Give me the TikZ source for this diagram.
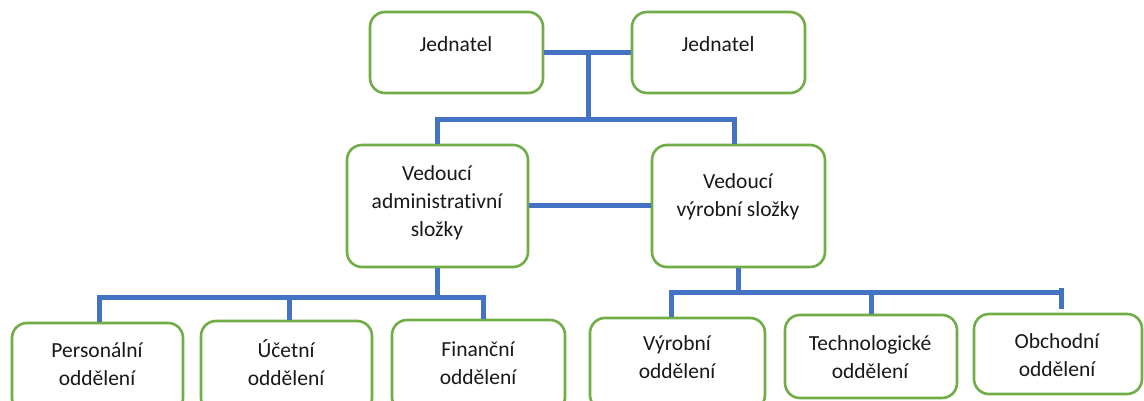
\documentclass[tikz,border=0pt]{standalone}
\usepackage{fontspec}
\setmainfont{Carlito}[Ligatures=NoCommon]
\definecolor{boxgreen}{HTML}{70AD47}
\definecolor{lineblue}{HTML}{4472C4}
\begin{document}
\begin{tikzpicture}[x=1pt,y=-1pt,
  box/.style={draw=boxgreen,line width=2.6pt,rounded corners=15pt,fill=white,inner sep=0pt},
  txt/.style={align=center,font=\fontsize{21.5}{28}\selectfont,text=black!90,inner sep=0pt},
  conn/.style={draw=lineblue,line width=5pt}]
\useasboundingbox[fill=white] (0,0) rectangle (1144,401);
% boxes
\node[box,minimum width=173pt,minimum height=81pt] (j1) at (456.5,52.5) {};
\node[box,minimum width=173pt,minimum height=81pt] (j2) at (718.5,52.5) {};
\node[box,minimum width=181pt,minimum height=122pt] (va) at (437.5,206) {};
\node[box,minimum width=173pt,minimum height=122pt] (vv) at (738.5,206) {};
\node[box,minimum width=171pt,minimum height=90pt] (p) at (97.5,368) {};
\node[box,minimum width=171pt,minimum height=92pt] (u) at (286.5,367) {};
\node[box,minimum width=173pt,minimum height=92pt] (f) at (478.5,366) {};
\node[box,minimum width=175pt,minimum height=92pt] (vy) at (677.5,364) {};
\node[box,minimum width=172pt,minimum height=83pt] (t) at (871,356.5) {};
\node[box,minimum width=168pt,minimum height=80pt] (o) at (1058,354) {};
% texts
\node[txt] (j1t) at (456,44) {Jednatel};
\node[txt] (j2t) at (718,44) {Jednatel};
\node[txt] (vat) at (437,203) {Vedoucí\\administrativní\\složky};
\node[txt] (vvt) at (738,197) {Vedoucí\\výrobní složky};
\node[txt] (pt) at (97,364) {Personální\\oddělení};
\node[txt] (ut) at (286,363) {Účetní\\oddělení};
\node[txt] (ft) at (478,363) {Finanční\\oddělení};
\node[txt] (vyt) at (677,357) {Výrobní\\oddělení};
\node[txt] (tt) at (870,357) {Technologické\\oddělení};
\node[txt] (ot) at (1057,355) {Obchodní\\oddělení};
% coordinates
\coordinate (top) at (588,52.5);
\coordinate (bus1) at (588,120);
\coordinate (bus2) at (437.5,297);
\coordinate (bus3) at (738.5,292);
\coordinate (oend) at (1061,309);
\coordinate (otop) at (1061,288);
% connectors
\draw[conn] (j1.east) -- (j2.west);
\draw[conn] (top) -- (bus1);
\draw[conn] (va.north) |- (bus1) -| ([xshift=-4.5pt]vv.north);
\draw[conn] (va.east) -- (vv.west);
\draw[conn] (va.south) -- (bus2);
\draw[conn] ([xshift=1.5pt]p.north) |- (bus2) -| ([xshift=4.5pt]f.north);
\draw[conn] ([xshift=2.5pt]u.north) |- (bus2);
\draw[conn] (vv.south) -- (bus3);
\draw[conn] ([xshift=-6.5pt]vy.north) |- (bus3);
\draw[conn] (bus3) -| (otop) -- (oend);
\draw[conn] (t.north) |- (bus3);
\end{tikzpicture}
\end{document}
